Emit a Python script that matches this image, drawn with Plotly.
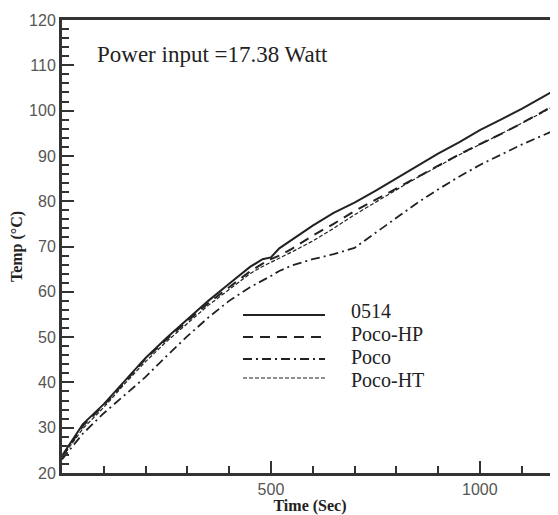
import plotly.graph_objects as go

# ---- data ----
time_s = [0, 50, 100, 150, 200, 250, 300, 350, 400, 450, 480, 500, 520, 550,
          600, 650, 700, 750, 800, 850, 900, 950, 1000, 1050, 1100, 1150, 1200]

temp_0514 = [23.8, 30.8, 35.2, 40.4, 45.4, 49.8, 54.0, 58.0, 61.8, 65.5, 67.2, 67.6, 69.6, 71.5,
             74.6, 77.4, 79.7, 82.3, 85.0, 87.8, 90.5, 93.0, 95.7, 98.0, 100.4, 103.0, 105.6]
temp_poco_hp = [23.5, 30.4, 35.0, 40.2, 45.2, 49.5, 53.5, 57.5, 61.0, 64.5, 66.2, 67.2, 68.0, 69.5,
                72.4, 75.0, 77.8, 80.3, 82.8, 85.3, 87.8, 90.3, 92.6, 94.8, 97.2, 99.7, 102.3]
temp_poco = [23.0, 28.7, 33.2, 37.3, 41.2, 45.8, 50.2, 54.3, 58.0, 61.0, 62.4, 63.5, 64.6, 65.8,
             67.2, 68.3, 69.7, 73.0, 76.5, 79.6, 82.6, 85.4, 88.0, 90.3, 92.5, 94.5, 96.5]
temp_poco_ht = [23.5, 29.8, 34.5, 39.7, 44.6, 49.0, 53.0, 57.0, 60.5, 64.0, 65.6, 66.5, 67.5, 68.8,
                71.2, 74.0, 77.0, 79.8, 82.5, 85.2, 87.7, 90.2, 92.5, 94.8, 97.2, 99.6, 102.2]

series_names = ["0514", "Poco-HP", "Poco", "Poco-HT"]
x_ticks = [0, 500, 1000]
y_ticks = [20, 30, 40, 50, 60, 70, 80, 90, 100, 110, 120]

# ---- styles ----
INK = "#222222"
styles = {
    "0514": dict(width=2.0, dash="solid"),
    "Poco-HP": dict(width=2.0, dash="10px,7px"),
    "Poco": dict(width=1.8, dash="9px,4px,2px,4px"),
    "Poco-HT": dict(width=1.2, dash="4px,2px"),
}
series = {"0514": temp_0514, "Poco-HP": temp_poco_hp, "Poco": temp_poco, "Poco-HT": temp_poco_ht}

fig = go.Figure()
for name in series_names:
    st = styles[name]
    fig.add_trace(go.Scatter(x=time_s, y=series[name], mode="lines", name=name,
                             line=dict(color=INK, width=st["width"], dash=st["dash"]),
                             showlegend=False))

# page body has an 8px margin: size the figure so the plot lands where the reference has it
OFF = 8
W, H = 558 - OFF, 515 - OFF
ML, MR, MT, MB = 62 - OFF, 0, 20 - OFF, 42
pw, ph = W - ML - MR, H - MT - MB

def px_x(p):
    return (p - OFF - ML) / pw

def px_y(p):
    return (H + OFF - MB - p) / ph

legend_lines = [315, 337, 359, 378]
legend_text = [311, 334, 357, 380]
for name, row, trow in zip(series_names, legend_lines, legend_text):
    st = styles[name]
    fig.add_shape(type="line", xref="paper", yref="paper",
                  x0=px_x(243), x1=px_x(325), y0=px_y(row), y1=px_y(row),
                  line=dict(color=INK, width=st["width"], dash=st["dash"]))
    fig.add_annotation(xref="paper", yref="paper", x=px_x(349), y=px_y(trow),
                       text=name, showarrow=False, xanchor="left", yanchor="middle",
                       font=dict(family="Liberation Serif", size=20, color=INK))

fig.add_annotation(xref="paper", yref="paper", x=px_x(95), y=px_y(55),
                   text="Power input =17.38 Watt", showarrow=False,
                   xanchor="left", yanchor="middle",
                   font=dict(family="Liberation Serif", size=23, color=INK))

fig.update_layout(
    width=W, height=H,
    margin=dict(l=ML, r=MR, t=MT, b=MB, autoexpand=False),
    paper_bgcolor="white", plot_bgcolor="white",
    xaxis=dict(range=[0, 1187], tickmode="array", tickvals=x_ticks,
               ticktext=["", "500", "1000"],
               ticks="inside", ticklen=12, tickwidth=2, tickcolor="#333",
               showline=True, linewidth=3, linecolor="#333", mirror=True,
               showgrid=False, zeroline=False,
               tickfont=dict(family="Liberation Sans", size=16, color="#555"),
               minor=dict(tickmode="linear", tick0=0, dtick=100, ticks="inside",
                          ticklen=7, tickwidth=1.5, tickcolor="#333", showgrid=False),
               title=dict(text="<b>Time (Sec)</b>", standoff=2,
                          font=dict(family="Liberation Serif", size=16, color=INK))),
    yaxis=dict(range=[20, 120], tickmode="array", tickvals=y_ticks,
               ticks="inside", ticklen=12, tickwidth=2, tickcolor="#333",
               showline=True, linewidth=3, linecolor="#333", mirror=False,
               showgrid=False, zeroline=False,
               tickfont=dict(family="Liberation Sans", size=16, color="#555"),
               minor=dict(tickmode="linear", tick0=20, dtick=2, ticks="inside",
                          ticklen=7, tickwidth=1.5, tickcolor="#333", showgrid=False),
               title=dict(text="<b>Temp (°C)</b>", standoff=4,
                          font=dict(family="Liberation Serif", size=16, color=INK))),
)

fig.write_html("out.html")
